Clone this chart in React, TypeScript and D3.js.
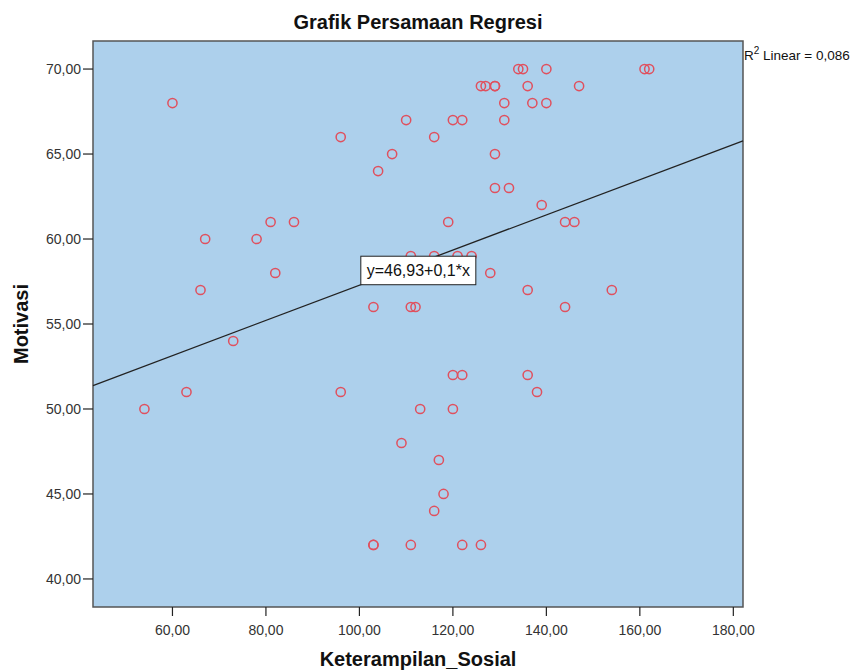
import React from "react";
import * as d3 from "d3";

const motivasiLevels = [70, 69, 68, 67, 66, 65, 64, 63, 62, 61, 60, 59, 58, 57, 56, 54, 52, 51, 50, 48, 47, 45, 44, 42];
const sosialAtLevel: number[][] = [
  [134, 135, 140, 161, 162],
  [126, 127, 129, 129, 136, 147],
  [60, 131, 137, 140],
  [110, 120, 122, 131],
  [96, 116],
  [107, 129],
  [104],
  [129, 132],
  [139],
  [81, 86, 119, 144, 146],
  [67, 78],
  [111, 116, 121, 124],
  [82, 128],
  [66, 136, 154],
  [103, 111, 112, 144],
  [73],
  [120, 122, 136],
  [63, 96, 138],
  [54, 113, 120],
  [109],
  [117],
  [118],
  [116],
  [103, 103, 111, 122, 126],
];
const xTicks = [60, 80, 100, 120, 140, 160, 180];
const yTicks = [40, 45, 50, 55, 60, 65, 70];
const intercept = 46.93;
const slope = 0.1035;
const equationLabel = "y=46,93+0,1*x";
const r2Label = "0,086";
const labelAtX = 100.3;

const points = motivasiLevels.flatMap((y, i) => sosialAtLevel[i].map((x) => ({ x, y })));

const fmt = (v: number) => v.toFixed(2).replace(".", ",");

export default function App() {
  const left = 93, right = 743, top = 41, bottom = 607;
  const x = d3.scaleLinear().domain([43, 182.07]).range([left, right]);
  const y = d3.scaleLinear().domain([38.35, 71.65]).range([bottom, top]);
  const font = "'Liberation Sans', Arial, sans-serif";
  const xd = x.domain();
  const line = d3.line<number>().x((v) => x(v)).y((v) => y(intercept + slope * v));
  const lx = x(labelAtX);
  const ly = y(intercept + slope * labelAtX);
  return (
    <svg width={863} height={670} style={{ position: "absolute", left: 0, top: 0, background: "#fff" }} fontFamily={font}>
      <text x={418} y={29} textAnchor="middle" fontSize={20} fontWeight="bold" fill="#111">Grafik Persamaan Regresi</text>
      <rect x={left} y={top} width={right - left} height={bottom - top} fill="#ADD0EC" stroke="#555" strokeWidth={1.5} />
      {yTicks.map((t) => (
        <g key={"y" + t}>
          <line x1={left - 10} x2={left} y1={y(t)} y2={y(t)} stroke="#222" strokeWidth={1.2} />
          <text x={left - 12} y={y(t) + 5} textAnchor="end" fontSize={14} fill="#333">{fmt(t)}</text>
        </g>
      ))}
      {xTicks.map((t) => (
        <g key={"x" + t}>
          <line x1={x(t)} x2={x(t)} y1={bottom} y2={bottom + 9} stroke="#222" strokeWidth={1.2} />
          <text x={x(t)} y={bottom + 28} textAnchor="middle" fontSize={14} fill="#333">{fmt(t)}</text>
        </g>
      ))}
      {points.map((p, i) => (
        <circle key={i} cx={x(p.x)} cy={y(p.y)} r={4.6} fill="none" stroke="#E0505E" strokeWidth={1.5} />
      ))}
      <path d={line([xd[0], xd[1]]) || ""} stroke="#222" strokeWidth={1.3} fill="none" />
      <rect x={lx} y={ly - 28.5} width={115} height={28.5} fill="#fff" stroke="#222" strokeWidth={1} />
      <text x={lx + 57.5} y={ly - 8.5} textAnchor="middle" fontSize={16} fill="#111">{equationLabel}</text>
      <text x={744} y={60} fontSize={13.5} fill="#111">
        R<tspan dy={-6} fontSize={10}>2</tspan><tspan dy={6}> Linear = {r2Label}</tspan>
      </text>
      <text transform={`translate(28,${(top + bottom) / 2}) rotate(-90)`} textAnchor="middle" fontSize={20} fontWeight="bold" fill="#111">Motivasi</text>
      <text x={418} y={666} textAnchor="middle" fontSize={20} fontWeight="bold" fill="#111">Keterampilan_Sosial</text>
    </svg>
  );
}
